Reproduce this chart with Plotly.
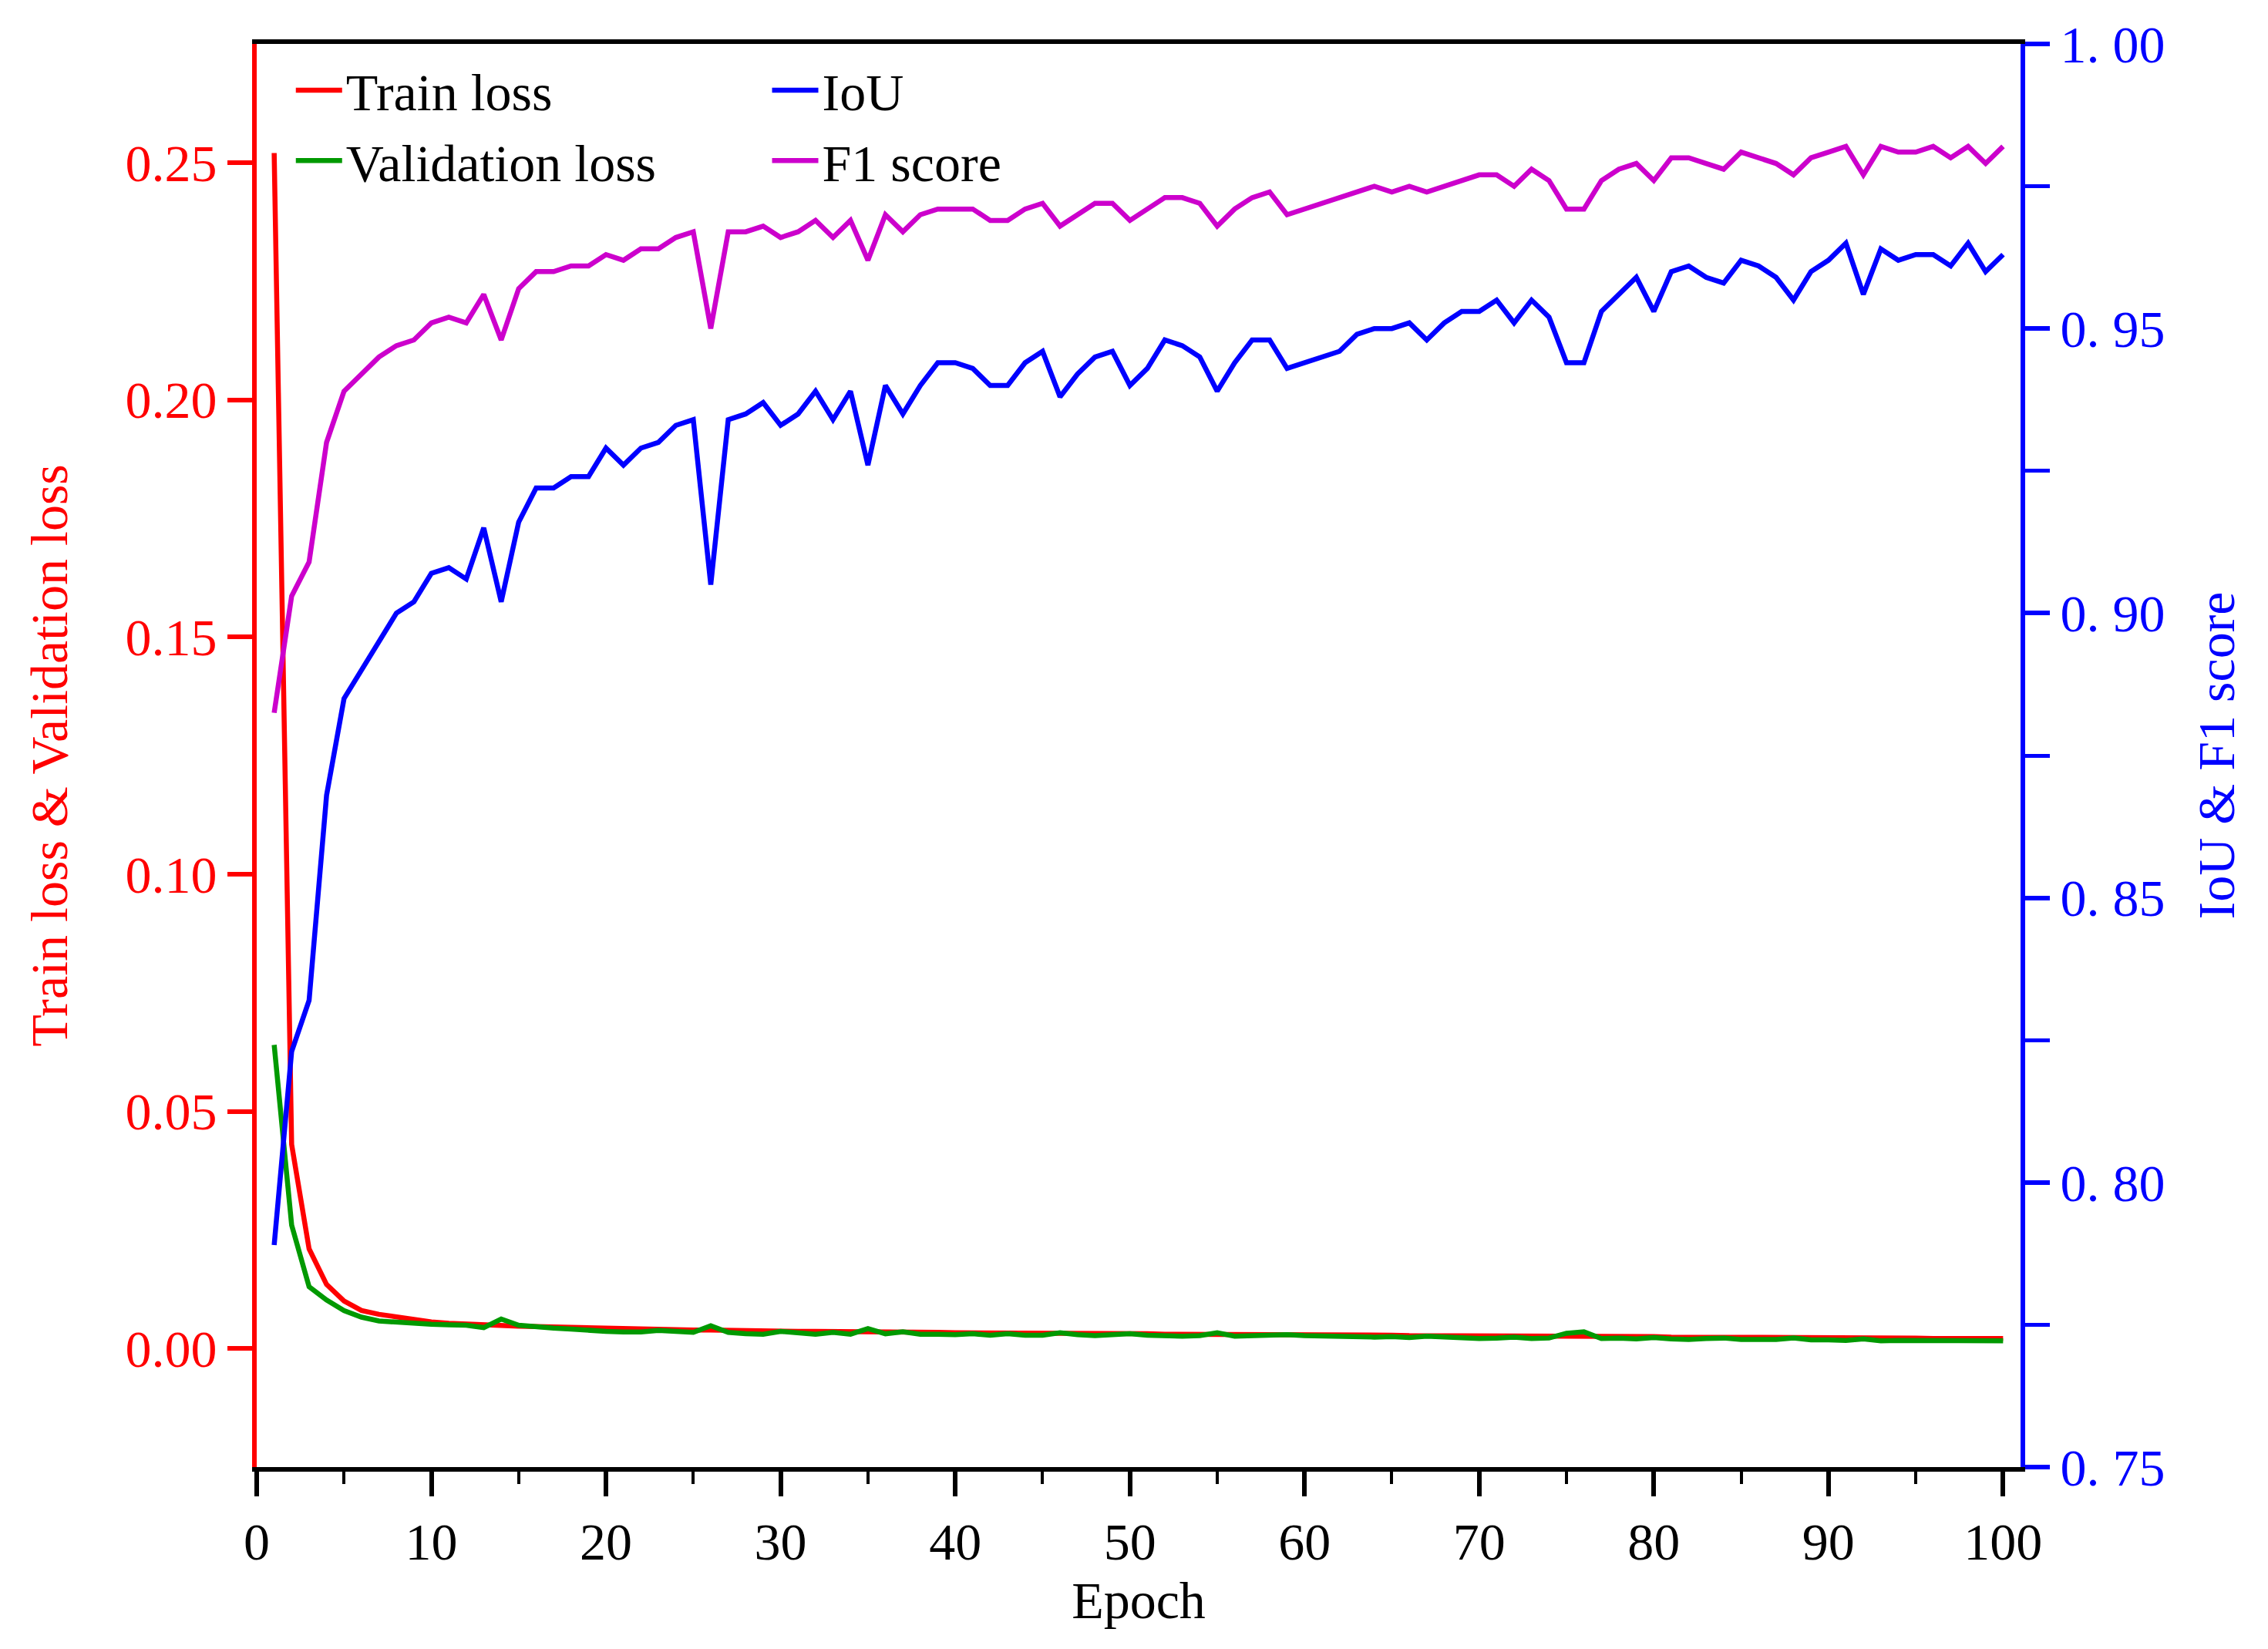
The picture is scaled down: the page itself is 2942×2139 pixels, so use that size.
import plotly.graph_objects as go

epochs = list(range(1, 101))
train_loss = [0.252,0.043,0.021,0.0135,0.010,0.008,0.0072,0.0066,0.006,0.0056,
0.0053,0.0051,0.005,0.0049,0.0047,0.0046,0.0045,0.0044,0.0043,0.0042,
0.0042,0.0041,0.004,0.004,0.0039,0.0039,0.0038,0.0038,0.0037,0.0037,
0.0036,0.0036,0.0036,0.0035,0.0035,0.0035,0.0034,0.0034,0.0034,0.0033,
0.0033,0.0033,0.0033,0.0032,0.0032,0.0032,0.0032,0.0031,0.0031,0.0031,
0.0031,0.003,0.003,0.003,0.003,0.003,0.0029,0.0029,0.0029,0.0029,
0.0028,0.0028,0.0028,0.0028,0.0028,0.0027,0.0027,0.0027,0.0027,0.0027,
0.0026,0.0026,0.0026,0.0026,0.0026,0.0025,0.0025,0.0025,0.0025,0.0025,
0.0024,0.0024,0.0024,0.0024,0.0024,0.0023,0.0023,0.0023,0.0023,0.0023,
0.0022,0.0022,0.0022,0.0022,0.0022,0.0021,0.0021,0.0021,0.0021,0.0021]
val_loss = [0.064,0.026,0.013,0.0102,0.008,0.0066,0.0058,0.0055,0.0054,0.0051,
0.005,0.0049,0.0044,0.0062,0.0049,0.0045,0.0043,0.0041,0.0038,0.0036,
0.0035,0.0035,0.0038,0.0036,0.0034,0.0048,0.0034,0.0031,0.003,0.0036,
0.0033,0.003,0.0034,0.003,0.0042,0.0031,0.0035,0.003,0.003,0.0029,
0.0031,0.0028,0.0031,0.0028,0.0028,0.0033,0.0029,0.0027,0.0029,0.0031,
0.0028,0.0026,0.0026,0.0027,0.0033,0.0026,0.0027,0.0026,0.0029,0.0027,
0.0026,0.0025,0.0023,0.0024,0.0025,0.0023,0.0026,0.0024,0.0022,0.0021,
0.0022,0.0024,0.0021,0.0022,0.0032,0.0035,0.0021,0.0022,0.002,0.0023,
0.002,0.0019,0.0021,0.0022,0.0019,0.0019,0.0019,0.0022,0.0018,0.0018,
0.0017,0.002,0.0016,0.0017,0.0017,0.0016,0.0018,0.0016,0.0018,0.0016]
iou = [0.789,0.823,0.832,0.868,0.885,0.890,0.895,0.900,0.902,0.907,
0.908,0.906,0.915,0.902,0.916,0.922,0.922,0.924,0.924,0.929,
0.926,0.929,0.930,0.933,0.934,0.905,0.934,0.935,0.937,0.933,
0.935,0.939,0.934,0.939,0.926,0.940,0.935,0.940,0.944,0.944,
0.943,0.940,0.940,0.944,0.946,0.938,0.942,0.945,0.946,0.940,
0.943,0.948,0.947,0.945,0.939,0.944,0.948,0.948,0.943,0.944,
0.945,0.946,0.949,0.950,0.950,0.951,0.948,0.951,0.953,0.953,
0.955,0.951,0.955,0.952,0.944,0.944,0.953,0.956,0.959,0.953,
0.960,0.961,0.959,0.958,0.962,0.961,0.959,0.955,0.960,0.962,
0.965,0.956,0.964,0.962,0.963,0.963,0.961,0.965,0.960,0.963]
f1 = [0.8825,0.903,0.909,0.930,0.939,0.942,0.945,0.947,0.948,0.951,
0.952,0.951,0.956,0.948,0.957,0.960,0.960,0.961,0.961,0.963,
0.962,0.964,0.964,0.966,0.967,0.950,0.967,0.967,0.968,0.966,
0.967,0.969,0.966,0.969,0.962,0.970,0.967,0.970,0.971,0.971,
0.971,0.969,0.969,0.971,0.972,0.968,0.970,0.972,0.972,0.969,
0.971,0.973,0.973,0.972,0.968,0.971,0.973,0.974,0.970,0.971,
0.972,0.973,0.974,0.975,0.974,0.975,0.974,0.975,0.976,0.977,
0.977,0.975,0.978,0.976,0.971,0.971,0.976,0.978,0.979,0.976,
0.980,0.980,0.979,0.978,0.981,0.980,0.979,0.977,0.980,0.981,
0.982,0.977,0.982,0.981,0.981,0.982,0.980,0.982,0.979,0.982]
right_ticks = [0.75, 0.80, 0.85, 0.90, 0.95, 1.00]
right_labels = ["0. 75", "0. 80", "0. 85", "0. 90", "0. 95", "1. 00"]

FONT = "Liberation Serif"
FS = 68
LW = 6.5
fig = go.Figure()
fig.add_trace(go.Scatter(x=epochs, y=train_loss, name="Train loss", mode="lines",
                         line=dict(color="#ff0000", width=LW), legend="legend"))
fig.add_trace(go.Scatter(x=epochs, y=val_loss, name="Validation loss", mode="lines",
                         line=dict(color="#009900", width=LW), legend="legend"))
fig.add_trace(go.Scatter(x=epochs, y=iou, name="IoU", mode="lines", yaxis="y2",
                         line=dict(color="#0000ff", width=LW), legend="legend2"))
fig.add_trace(go.Scatter(x=epochs, y=f1, name="F1 score", mode="lines", yaxis="y2",
                         line=dict(color="#cc00cc", width=LW), legend="legend2"))

axbase = dict(showgrid=False, zeroline=False, ticks="outside", ticklen=32, tickwidth=6, linewidth=6)
fig.update_layout(
    width=2942, height=2139, plot_bgcolor="white", paper_bgcolor="white",
    margin=dict(l=325, r=329, t=47, b=244),
    font=dict(family=FONT, size=FS, color="black"),
    xaxis=dict(**axbase, range=[0, 101], dtick=10, linecolor="black", tickcolor="black", mirror=True,
               minor=dict(ticks="outside", ticklen=16, tickwidth=4, dtick=5, tickcolor="black"),
               title=dict(text="Epoch", font=dict(size=FS), standoff=15), tickfont=dict(size=FS)),
    yaxis=dict(**axbase, range=[-0.025, 0.275], dtick=0.05, tickformat=".2f",
               linecolor="#ff0000", tickcolor="#ff0000", tickfont=dict(color="#ff0000", size=FS),
               title=dict(text="Train loss & Validation loss", font=dict(color="#ff0000", size=FS), standoff=55)),
    yaxis2=dict(**axbase, range=[0.75, 1.0], tickvals=right_ticks, ticktext=right_labels,
                overlaying="y", side="right",
                linecolor="#0000ff", tickcolor="#0000ff", tickfont=dict(color="#0000ff", size=FS),
                minor=dict(ticks="outside", ticklen=32, tickwidth=5, dtick=0.025, tickcolor="#0000ff"),
                title=dict(text="IoU & F1 score", font=dict(color="#0000ff", size=FS), standoff=45)),
    legend=dict(x=0.02, y=0.995, xanchor="left", yanchor="top", bgcolor="rgba(0,0,0,0)",
                font=dict(size=FS), tracegroupgap=0, itemwidth=60),
    legend2=dict(x=0.29, y=0.995, xanchor="left", yanchor="top", bgcolor="rgba(0,0,0,0)",
                 font=dict(size=FS), tracegroupgap=0, itemwidth=60),
)
fig.write_html("out.html")
